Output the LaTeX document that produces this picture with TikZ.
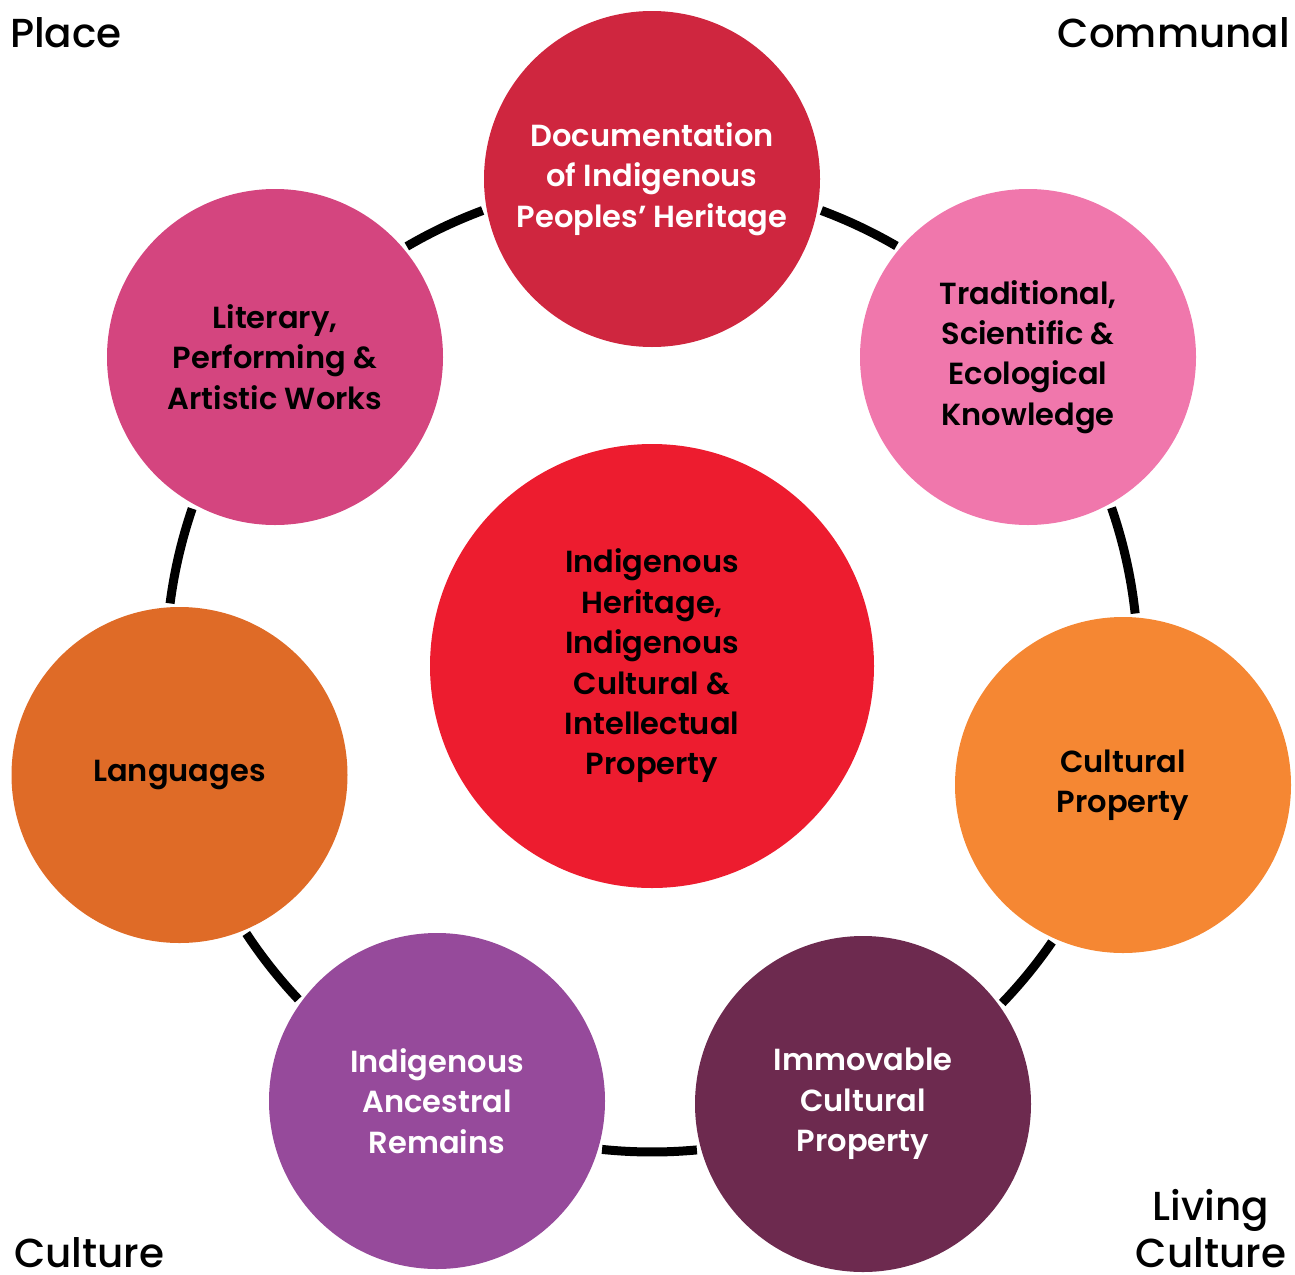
\documentclass[tikz,border=0pt]{standalone}
\usepackage{fontspec}
\setmainfont{Poppins SemiBold}
\newfontfamily\cornerfont{Poppins Medium}
\definecolor{cdoc}{HTML}{CF263F}
\definecolor{ctrad}{HTML}{F077AC}
\definecolor{ccult}{HTML}{F58733}
\definecolor{cimm}{HTML}{6D2A4F}
\definecolor{crem}{HTML}{964A9B}
\definecolor{clang}{HTML}{DF6B27}
\definecolor{clit}{HTML}{D4457F}
\definecolor{cctr}{HTML}{ED1C2F}
\begin{document}
\begin{tikzpicture}[x=1pt,y=1pt,
  bub/.style={circle, minimum size=336pt, inner sep=0pt, align=center,
    font=\fontsize{30.5}{40.4}\selectfont},
  ringarc/.style={line width=9pt, black},
  corner/.style={inner sep=0pt, font=\cornerfont\fontsize{40.5}{48}\selectfont}]
\useasboundingbox (0,0) rectangle (1295,-1274);
\coordinate (C) at (652,-666);
% ring arcs
\draw[ringarc] ([shift={(69.6:486)}]C) arc[start angle=69.6, end angle=59.8, radius=486];
\draw[ringarc] ([shift={(19.0:486)}]C) arc[start angle=19.0, end angle=6.2, radius=486];
\draw[ringarc] ([shift={(-34.6:486)}]C) arc[start angle=-34.6, end angle=-43.9, radius=486];
\draw[ringarc] ([shift={(-84.7:486)}]C) arc[start angle=-84.7, end angle=-95.9, radius=486];
\draw[ringarc] ([shift={(-136.7:486)}]C) arc[start angle=-136.7, end angle=-146.6, radius=486];
\draw[ringarc] ([shift={(-187.4:486)}]C) arc[start angle=-187.4, end angle=-198.9, radius=486];
\draw[ringarc] ([shift={(120.3:486)}]C) arc[start angle=120.3, end angle=110.4, radius=486];
% circles
\node[bub, fill=cctr, minimum size=444pt] (center) at (C)
  {Indigenous\\Heritage,\\Indigenous\\Cultural \&\\Intellectual\\Property};
\node[bub, fill=cdoc, text=white] (doc) at (652,-179)
  {Documentation\\of Indigenous\\Peoples’ Heritage};
\node[bub, fill=ctrad] (trad) at (1028,-357)
  {Traditional,\\Scientific \&\\Ecological\\Knowledge};
\node[bub, fill=ccult] (cult) at (1123,-785)
  {Cultural\\Property};
\node[bub, fill=cimm, text=white] (imm) at (863,-1104)
  {Immovable\\Cultural\\Property};
\node[bub, fill=crem, text=white] (rem) at (437,-1101)
  {Indigenous\\Ancestral\\Remains};
\node[bub, fill=clang] (lang) at (179.5,-775)
  {Languages};
\node[bub, fill=clit] (lit) at (275,-357)
  {Literary,\\Performing \&\\Artistic Works};
% corner labels
\node[corner, anchor=base west] (place) at (10,-47) {Place};
\node[corner, anchor=base east] (communal) at (1290,-47) {Communal};
\node[corner, anchor=base west] (culture) at (14,-1267) {Culture};
\node[corner, anchor=base] (living) at (1211,-1220) {Living};
\node[corner, anchor=base] (livingculture) at (1211,-1267) {Culture};
\end{tikzpicture}
\end{document}
